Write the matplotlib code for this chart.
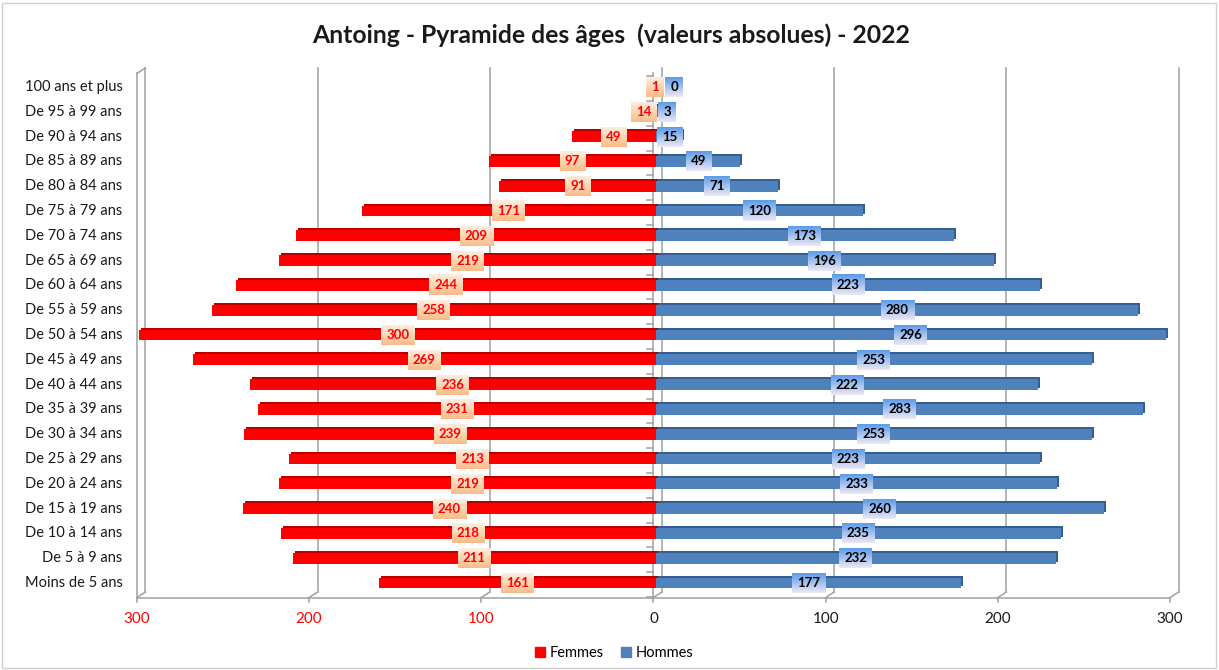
import matplotlib
matplotlib.use('Agg')
import matplotlib.pyplot as plt
import numpy as np
from matplotlib.transforms import ScaledTranslation, IdentityTransform
from matplotlib.patches import Rectangle, Patch
from matplotlib.lines import Line2D
import matplotlib.colors as mcolors

# ---------------- data ----------------
categories = ["100 ans et plus", "De 95 à 99 ans", "De 90 à 94 ans", "De 85 à 89 ans",
              "De 80 à 84 ans", "De 75 à 79 ans", "De 70 à 74 ans", "De 65 à 69 ans",
              "De 60 à 64 ans", "De 55 à 59 ans", "De 50 à 54 ans", "De 45 à 49 ans",
              "De 40 à 44 ans", "De 35 à 39 ans", "De 30 à 34 ans", "De 25 à 29 ans",
              "De 20 à 24 ans", "De 15 à 19 ans", "De 10 à 14 ans", "De 5 à 9 ans",
              "Moins de 5 ans"]
femmes = [1, 14, 49, 97, 91, 171, 209, 219, 244, 258, 300, 269, 236, 231, 239, 213, 219, 240, 218, 211, 161]
hommes = [0, 3, 15, 49, 71, 120, 173, 196, 223, 280, 296, 253, 222, 283, 253, 223, 233, 260, 235, 232, 177]
x_ticks = [-300, -200, -100, 0, 100, 200, 300]
x_tick_labels = ["300", "200", "100", "0", "100", "200", "300"]
title = "Antoing - Pyramide des âges  (valeurs absolues) - 2022"
series_names = ["Femmes", "Hommes"]

plt.rcParams['font.family'] = ['Lato', 'DejaVu Sans']

W, H = 1219, 670
fig = plt.figure(figsize=(W / 100, H / 100), dpi=100)
fig.patch.set_facecolor('white')

ax_left_px, ax_right_px = 139.4, 1172.6
ax_top_px, ax_bot_px = 72, 596
ax = fig.add_axes([ax_left_px / W, 1 - ax_bot_px / H,
                   (ax_right_px - ax_left_px) / W, (ax_bot_px - ax_top_px) / H])
n = len(categories)
ypos = np.arange(n)[::-1]
ylo, yhi = -0.524, n - 1 + 0.605
ax.set_xlim(-300, 300)
ax.set_ylim(ylo, yhi)
ax.axis('off')


def off(dx, dy):
    return ax.transData + ScaledTranslation(dx / 100, dy / 100, fig.dpi_scale_trans)


back = off(6, 4)
front = off(-2.5, -1.5)
grid_c = '#a0a0a0'


def dline(p1, p2, **kw):
    fig.add_artist(Line2D([p1[0], p2[0]], [p1[1], p2[1]], transform=IdentityTransform(),
                          color=grid_c, lw=1.1, zorder=0.5, **kw))


# back wall gridlines
for xv in x_ticks:
    ax.plot([xv, xv], [ylo, yhi], transform=back, color=grid_c, lw=1.1, zorder=0.5, clip_on=False)
# left side wall (front)
ax.plot([-300, -300], [ylo, yhi], transform=front, color=grid_c, lw=1.1, zorder=0.5, clip_on=False)
dline(front.transform((-300, yhi)), back.transform((-300, yhi)))
# floor front line + diagonals + ticks
dline(front.transform((-300, ylo)), front.transform((300, ylo)))
for xv in x_ticks:
    pf = front.transform((xv, ylo))
    dline(pf, back.transform((xv, ylo)))
    dline(pf, (pf[0], pf[1] - 4))
# zero category axis (front) with tick marks
ax.plot([0, 0], [ylo, yhi], transform=front, color=grid_c, lw=1.1, zorder=0.6, clip_on=False)
for b in np.arange(-0.5, n, 1.0):
    p = front.transform((0, b))
    dline(p, (p[0] - 6, p[1]))

# bars with 3D depth
h = 0.44
fem = -np.array(femmes)
hom = np.array(hommes)
ax.barh(ypos, fem, height=h, color='#B80000', transform=off(2, 2), zorder=1, clip_on=False)
ax.barh(ypos, hom, height=h, color='#345F92', transform=off(2, 2), zorder=1, clip_on=False)
ax.barh(ypos, fem, height=h, color='#FF0000', zorder=2, clip_on=False)
ax.barh(ypos, hom, height=h, color='#4F81BD', zorder=2, clip_on=False)

# category labels
lab_tr = ax.transData + ScaledTranslation(-17 / 100, 0, fig.dpi_scale_trans)
for yi, c in zip(ypos, categories):
    ax.text(-300, yi, c, transform=lab_tr, ha='right', va='center', fontsize=10.5, color='#1a1a1a')

# x tick labels
tick_tr = front + ScaledTranslation(0, -21.5 / 100, fig.dpi_scale_trans)
for i, (xv, tl) in enumerate(zip(x_ticks, x_tick_labels)):
    ax.text(xv, ylo, tl, transform=tick_tr, ha='center', va='center', fontsize=11,
            color='#FF0000' if xv < 0 else '#1a1a1a')

# value labels
ftexts, htexts = [], []
for yi, f, m in zip(ypos, femmes, hommes):
    ftexts.append(ax.text(-f / 2, yi, str(f), ha='center', va='center', fontsize=9.5,
                          fontweight='bold', color='#FF0000', zorder=6))
    htexts.append(ax.text(m / 2, yi, str(m), ha='center', va='center', fontsize=9.5,
                          fontweight='bold', color='black', zorder=6))

fig.canvas.draw()
renderer = fig.canvas.get_renderer()
inv = ax.transData.inverted()
zero_px = ax.transData.transform((0, 0))[0]


def grad(top, bot, N=64):
    t = np.array(mcolors.to_rgb(top))
    b = np.array(mcolors.to_rgb(bot))
    s = np.linspace(0, 1, N)[:, None]
    return (t * (1 - s) + b * s)[:, None, :]


fgrad = grad('#FDEEDF', '#F9BC88')
hgrad = grad('#5B9BE8', '#EEE8F4')


def box_for(t):
    bb = t.get_window_extent(renderer)
    w = max(bb.width + 10, 15)
    cx = (bb.x0 + bb.x1) / 2
    cy = ax.transData.transform((0, t.get_position()[1]))[1]
    return cx, cy, w


for ft, ht in zip(ftexts, htexts):
    fcx, fcy, fw = box_for(ft)
    hcx, hcy, hw = box_for(ht)
    f_right = fcx + fw / 2
    h_left = hcx - hw / 2
    min_left = max(zero_px + 1, f_right + 1.5)
    if h_left < min_left:
        shift = min_left - h_left
        hcx += shift
        xd, yd = inv.transform((hcx, hcy))
        ht.set_x(xd)
    for cx, cy, w, g in ((fcx, fcy, fw, fgrad), (hcx, hcy, hw, hgrad)):
        x0, y0 = inv.transform((cx - w / 2, cy - 10))
        x1, y1 = inv.transform((cx + w / 2, cy + 10))
        ax.imshow(g, extent=(x0, x1, y0, y1), aspect='auto', interpolation='bilinear',
                  zorder=5, clip_on=False)

ax.set_xlim(-300, 300)
ax.set_ylim(ylo, yhi)

# title
fig.text(611 / W, 1 - 35 / H, title, ha='center', va='center', fontsize=17.8, fontweight='bold',
         color='#1a1a1a')

# legend
handles = [Patch(color='#FF0000', label=series_names[0]), Patch(color='#4F81BD', label=series_names[1])]
fig.legend(handles=handles, loc='center', bbox_to_anchor=(614 / W, 1 - 653 / H), ncol=2,
           frameon=False, fontsize=10.5, handlelength=0.7, handleheight=0.7,
           handletextpad=0.3, columnspacing=1.2)

# outer border
fig.add_artist(Rectangle((2 / W, 2 / H), 1 - 5 / W, 1 - 5 / H, transform=fig.transFigure,
                         fill=False, edgecolor='#d0d0d0', lw=1))

fig.savefig('out.png', dpi=100)
